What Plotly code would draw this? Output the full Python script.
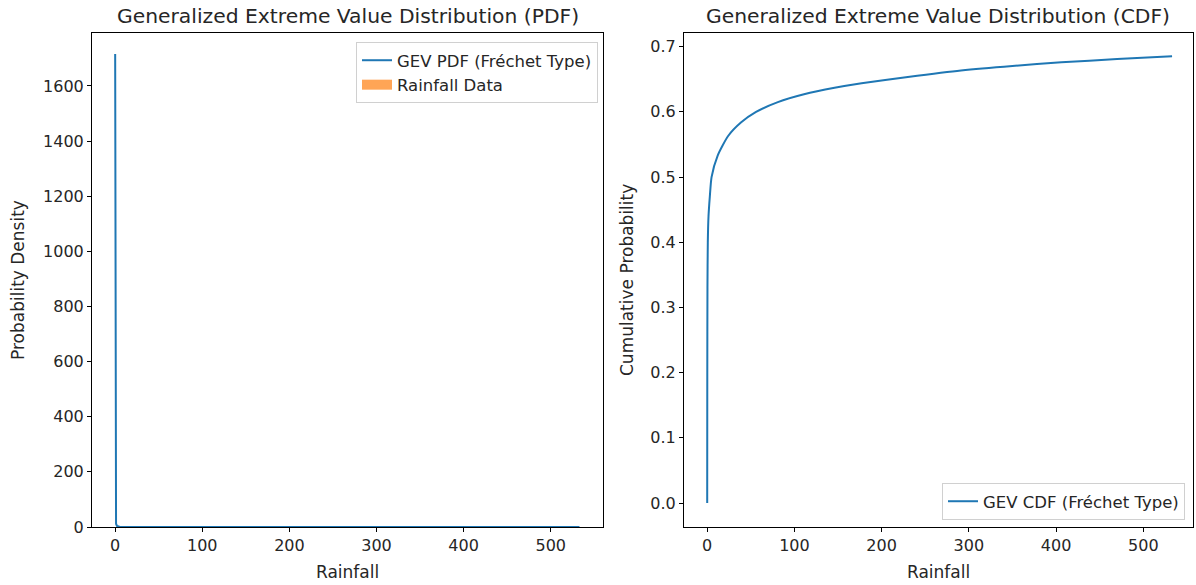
import plotly.graph_objects as go

# ---------------- data ----------------
pdf_x = [0.0, 0.3, 1.0, 2.0, 5.0, 20.0, 100.0, 300.0, 533.0]
pdf_y = [1716.0, 60.0, 12.0, 4.0, 1.0, 0.1, 0.01, 0.002, 0.001]

hist_edges = [0, 53.3, 106.6, 159.9, 213.2, 266.5, 319.8, 373.1, 426.4, 479.7, 533.0]
hist_density = [0.0150, 0.0012, 0.0006, 0.0004, 0.0003, 0.0002, 0.0001, 0.0001, 0.0001, 0.0001]

cdf_x = [0.0, 0.1, 0.3, 0.7, 1.5, 3.0, 5.0, 12.0, 24.0, 39.0, 56.0, 81.0, 111.0,
         146.0, 177.0, 230.0, 291.0, 350.0, 406.0, 470.0, 533.0]
cdf_y = [0.0, 0.20, 0.33, 0.40, 0.44, 0.47, 0.50, 0.533, 0.563, 0.584, 0.600, 0.615,
         0.627, 0.637, 0.644, 0.6535, 0.6635, 0.6705, 0.676, 0.681, 0.6855]

x_ticks = [0, 100, 200, 300, 400, 500]
pdf_y_ticks = [0, 200, 400, 600, 800, 1000, 1200, 1400, 1600]
cdf_y_ticks = [0.0, 0.1, 0.2, 0.3, 0.4, 0.5, 0.6, 0.7]

# ---------------- figure ----------------
BLUE = "#1f77b4"
ORANGE = "#ff7f0e"
FONT = "DejaVu Sans"
TXT = "#262626"
W, H = 1196, 585

hist_centers = [(a + b) / 2 for a, b in zip(hist_edges[:-1], hist_edges[1:])]
hist_widths = [b - a for a, b in zip(hist_edges[:-1], hist_edges[1:])]

fig = go.Figure()
fig.add_trace(go.Scatter(x=pdf_x, y=pdf_y, mode="lines", name="GEV PDF (Fréchet Type)",
                         line=dict(color=BLUE, width=2), xaxis="x", yaxis="y",
                         legend="legend"))
fig.add_trace(go.Bar(x=hist_centers, y=hist_density, width=hist_widths, name="Rainfall Data",
                     marker=dict(color=ORANGE, opacity=0.7, line=dict(width=0)),
                     xaxis="x", yaxis="y", showlegend=False))
# legend-only entry so the key shows a wide patch like matplotlib
fig.add_trace(go.Scatter(x=[None], y=[None], mode="lines", name="Rainfall Data",
                         line=dict(color="rgba(255,127,14,0.7)", width=11),
                         xaxis="x", yaxis="y", legend="legend"))
fig.add_trace(go.Scatter(x=cdf_x, y=cdf_y, mode="lines", name="GEV CDF (Fréchet Type)",
                         line=dict(color=BLUE, width=2, shape="spline", smoothing=0.6),
                         xaxis="x2", yaxis="y2", legend="legend2"))

def px_x(p):
    return p / W

def px_y(p):
    return 1 - p / H

axis_common = dict(showgrid=False, zeroline=False, showline=True, linecolor="black",
                   linewidth=1, mirror=True, ticks="outside", ticklen=4, tickcolor="black",
                   automargin=False,
                   tickfont=dict(family=FONT, size=16, color=TXT))

def ann(text, x, y, size, angle=0):
    return dict(text=text, x=x, y=y, xref="paper", yref="paper", showarrow=False,
                textangle=angle, font=dict(family=FONT, size=size, color=TXT),
                xanchor="center", yanchor="middle")

fig.update_layout(
    width=W, height=H,
    margin=dict(l=0, r=0, t=0, b=0),
    paper_bgcolor="white", plot_bgcolor="white",
    font=dict(family=FONT, color=TXT),
    bargap=0,
    xaxis=dict(domain=[px_x(92), px_x(603)], range=[-26.6, 560], tickvals=x_ticks,
               anchor="y", **axis_common),
    yaxis=dict(domain=[px_y(527), px_y(33)], range=[0, 1792], tickvals=pdf_y_ticks,
               anchor="x", **axis_common),
    xaxis2=dict(domain=[px_x(684), px_x(1193)], range=[-26.6, 557], tickvals=x_ticks,
                anchor="y2", **axis_common),
    yaxis2=dict(domain=[px_y(527), px_y(33)], range=[-0.0368, 0.721], tickvals=cdf_y_ticks,
                tickformat=".1f", anchor="x2", **axis_common),
    legend=dict(x=px_x(598), y=px_y(42), xanchor="right", yanchor="top",
                bgcolor="rgba(255,255,255,0.8)", bordercolor="#d0d0d0", borderwidth=1,
                font=dict(family=FONT, size=16.5, color=TXT), tracegroupgap=0),
    legend2=dict(x=px_x(1185), y=px_y(520), xanchor="right", yanchor="bottom",
                 bgcolor="rgba(255,255,255,0.8)", bordercolor="#d0d0d0", borderwidth=1,
                 font=dict(family=FONT, size=16.5, color=TXT)),
    annotations=[
        ann("Generalized Extreme Value Distribution (PDF)", (px_x(92) + px_x(603)) / 2,
            px_y(16), 20.3),
        ann("Generalized Extreme Value Distribution (CDF)", (px_x(684) + px_x(1193)) / 2,
            px_y(16), 20.3),
        ann("Rainfall", (px_x(92) + px_x(603)) / 2, px_y(572), 17),
        ann("Rainfall", (px_x(684) + px_x(1193)) / 2, px_y(572), 17),
        ann("Probability Density", px_x(18), px_y(280), 17, -90),
        ann("Cumulative Probability", px_x(627), px_y(280), 17, -90),
    ],
)

fig.write_html("out.html", config={"displayModeBar": False},
               post_script="document.body.style.margin='0px';document.body.style.overflow='hidden';")
